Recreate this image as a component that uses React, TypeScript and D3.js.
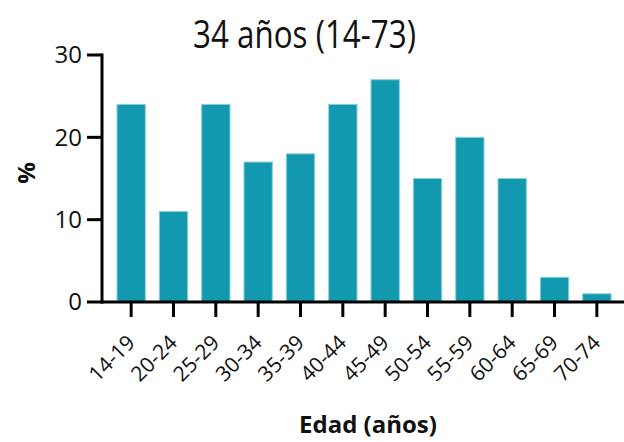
import React from 'react';
import * as d3 from 'd3';

const categories = ['14-19', '20-24', '25-29', '30-34', '35-39', '40-44', '45-49', '50-54', '55-59', '60-64', '65-69', '70-74'];
const values = [24, 11, 24, 17, 18, 24, 27, 15, 20, 15, 3, 1];
const yTicks = [0, 10, 20, 30];
const title = '34 años (14-73)';
const xTitle = 'Edad (años)';
const yTitle = '%';

const W = 624;
const H = 442;
const font = "'Open Sans', 'Liberation Sans', sans-serif";

export default function App() {
  const x = d3.scaleBand<string>().domain(categories).range([103, 625]).padding(0.33);
  const y = d3.scaleLinear().domain([0, 30]).range([302, 55]);

  return (
    <div style={{ position: 'absolute', left: 0, top: 0 }}>
      <svg width={W} height={H} style={{ display: 'block', background: '#fff' }}>
        <text x={193} y={48} fontFamily={font} fontSize={38} fill="#111"
          textLength={223} lengthAdjust="spacingAndGlyphs">{title}</text>

        {categories.map((c, i) => (
          <rect key={c} x={x(c)} y={y(values[i])} width={x.bandwidth()} height={y(0) - y(values[i])}
            fill="#1299b0" stroke="#8fd0da" strokeWidth={1} />
        ))}

        {/* y axis */}
        <line x1={102} x2={102} y1={y(30) - 1.5} y2={y(0) + 1.5} stroke="#000" strokeWidth={3} />
        {yTicks.map(t => (
          <g key={t}>
            <line x1={87} x2={102} y1={y(t)} y2={y(t)} stroke="#000" strokeWidth={3} />
            <text x={82} y={y(t)} dy="0.35em" textAnchor="end" fontFamily={font} fontSize={24} fill="#111">{t}</text>
          </g>
        ))}

        {/* x axis */}
        <line x1={100.5} x2={624} y1={y(0)} y2={y(0)} stroke="#000" strokeWidth={3} />
        {categories.map(c => {
          const cx = (x(c) as number) + x.bandwidth() / 2;
          return (
            <g key={c}>
              <line x1={cx} x2={cx} y1={y(0)} y2={y(0) + 15} stroke="#000" strokeWidth={3} />
              <text transform={`translate(${cx + 5},${y(0) + 42}) rotate(-45)`} textAnchor="end"
                fontFamily={font} fontSize={21} fill="#111">{c}</text>
            </g>
          );
        })}

        <text transform={`translate(35,${173}) rotate(-90)`} textAnchor="middle" fontFamily={font}
          fontSize={24} fontWeight="bold" fill="#111">{yTitle}</text>
        <text x={368} y={433} textAnchor="middle" fontFamily={font} fontSize={24} fontWeight="bold" fill="#111">{xTitle}</text>
      </svg>
    </div>
  );
}
